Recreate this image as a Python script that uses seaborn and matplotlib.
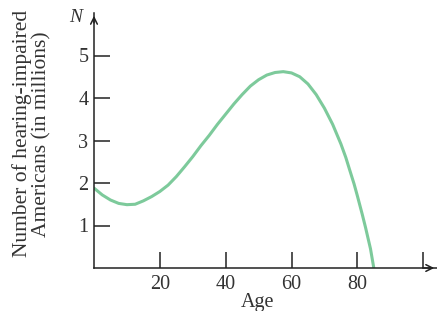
import numpy as np
import pandas as pd
import matplotlib
matplotlib.use("Agg")
import matplotlib.pyplot as plt
import seaborn as sns

# values
age = [0, 2.5, 5, 7.5, 10, 12.5, 15, 17.5, 20, 22.5, 25, 27.5, 30, 32.5, 35,
       37.5, 40, 42.5, 45, 47.5, 50, 52.5, 55, 57.5, 60, 62.5, 65, 67.5, 70,
       72.5, 75, 76.5, 77.5, 79, 80, 81.5, 82.5, 84, 85]
n_millions = [1.88, 1.72, 1.60, 1.52, 1.49, 1.50, 1.58, 1.68, 1.80, 1.95, 2.15,
              2.38, 2.62, 2.88, 3.12, 3.38, 3.62, 3.86, 4.08, 4.28, 4.43, 4.54,
              4.60, 4.62, 4.59, 4.50, 4.33, 4.08, 3.76, 3.38, 2.92, 2.60, 2.35,
              1.98, 1.70, 1.26, 0.95, 0.45, 0.0]
xticks = [20, 40, 60, 80, 100]
xticklabels = ["20", "40", "60", "80", ""]
yticks = [1, 2, 3, 4, 5]

df = pd.DataFrame({"Age": age, "N": n_millions})

sns.set_style("white")
plt.rcParams["font.family"] = ["Liberation Serif", "DejaVu Serif"]
txt = "#333333"
axc = "#222222"

fig = plt.figure(figsize=(4.37, 3.11), dpi=100)
ax = fig.add_axes([94 / 437, 43 / 311, 343 / 437, 255 / 311])

sns.lineplot(data=df, x="Age", y="N", ax=ax, color="#7dca9b", linewidth=2.2)

ax.set_xlim(0, 104.2)
ax.set_ylim(0, 6.0)
ax.set_xticks(xticks)
ax.set_xticklabels(xticklabels)
ax.set_yticks(yticks)
ax.tick_params(bottom=True, left=True, direction="in", length=11.5, width=1.1,
               color=axc, labelsize=14.5, labelcolor=txt)
ax.tick_params(axis="y", pad=4)
ax.tick_params(axis="x", pad=5)

for s in ["top", "right"]:
    ax.spines[s].set_visible(False)
for s in ["left", "bottom"]:
    ax.spines[s].set_color(axc)
    ax.spines[s].set_linewidth(1.1)

# arrow heads
ax.annotate("", xy=(0, 1.0), xytext=(0, 0.95), xycoords="axes fraction",
            arrowprops=dict(arrowstyle="->", color=axc, lw=1.1, mutation_scale=12))
ax.annotate("", xy=(1.0, 0), xytext=(0.95, 0), xycoords="axes fraction",
            arrowprops=dict(arrowstyle="->", color=axc, lw=1.1, mutation_scale=12))

ax.text(-5.6, 5.9, "N", style="italic", fontsize=14, color=txt,
        ha="center", va="center", clip_on=False)

ax.set_xlabel("Age", fontsize=14.5, color=txt)
ax.xaxis.set_label_coords(0.476, -0.1)
ax.set_ylabel("")
fig.text(0.073, 0.57, "Number of hearing-impaired\nAmericans (in millions)",
         rotation=90, ha="center", va="center", multialignment="center",
         fontsize=15.5, color=txt, linespacing=1.07)

fig.savefig("out.png", dpi=100)
